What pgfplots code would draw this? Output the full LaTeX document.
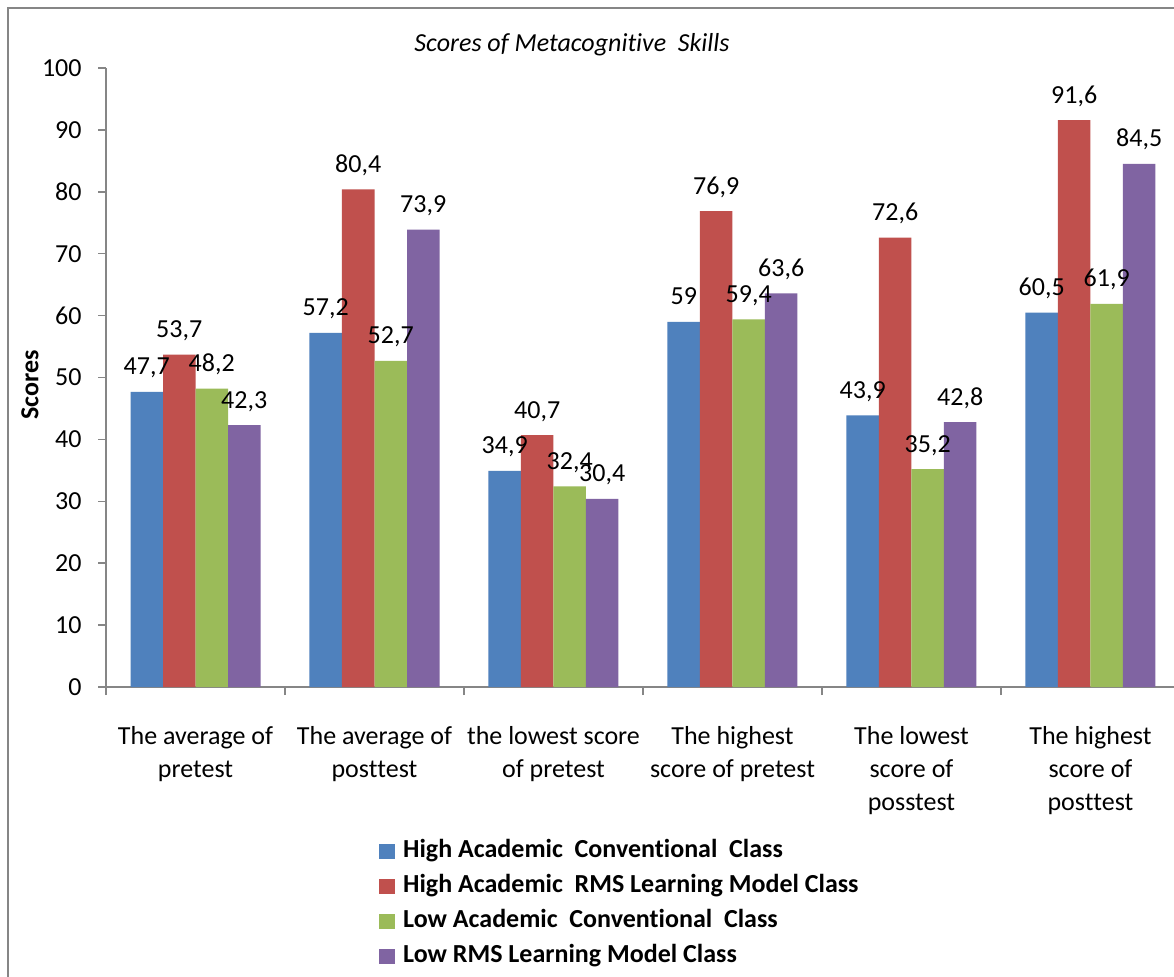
\documentclass[border=0pt]{standalone}
\usepackage{fontspec}
\setmainfont{Carlito}[Ligatures={NoCommon,NoRequired}]
\usepackage{pgfplots}
\pgfplotsset{compat=1.18}
\definecolor{c1}{HTML}{4F81BD}
\definecolor{c2}{HTML}{C0504D}
\definecolor{c3}{HTML}{9BBB59}
\definecolor{c4}{HTML}{8064A2}
\definecolor{axgray}{HTML}{868686}
\newcommand{\f}{\fontsize{13}{16.5}\selectfont}
\newcommand{\nl}{\kern0pt }
\pgfplotsset{mybar/.style={fill=#1, draw=none,
  legend image code/.code={\fill[#1] (0pt,-3.9pt) rectangle (8pt,3.9pt);}}}
\begin{document}
\begin{tikzpicture}
\useasboundingbox (0,0) rectangle (587pt,-488pt);
\fill[white] (0,0) rectangle (587pt,-488pt);
\begin{axis}[
  at={(53pt,-343.5pt)}, anchor=south west,
  scale only axis, width=537pt, height=309.5pt,
  xmin=-0.5, xmax=5.5, ymin=0, ymax=100,
  ybar=0pt, bar width=16.25pt,
  axis x line*=bottom, axis y line*=left,
  axis line style={axgray, line width=0.75pt, -},
  tick align=outside,
  major tick length=4pt, minor tick length=4pt,
  tick style={axgray, line width=0.75pt},
  xtick={0,1,2,3,4,5},
  minor xtick={-0.5,0.5,1.5,2.5,3.5,4.5,5.5},
  every major x tick/.append style={draw=none},
  xticklabels={{The average of\\pretest},{The average of\\post\nl test},{the lowest score\\of pretest},{The highest\\score of pretest},{The lowest\\score of\\posstest},{The highest\\score of\\post\nl test}},
  xticklabel style={align=center, font=\f, yshift=-12pt, anchor=north},
  ytick={0,10,...,100},
  yticklabel style={font=\f, xshift=-4.7pt},
  /pgf/number format/use comma,
  /pgf/number format/assume math mode=true,
  nodes near coords,
  every node near coord/.append style={font=\f, anchor=base, yshift=8.5pt, black},
  legend style={at={(0.2484,-0.235)}, anchor=north west, draw=none, fill=none,
    font=\bfseries\f, cells={anchor=west}, row sep=3pt, column sep=3pt,
    nodes={inner sep=1pt, text height=9.5pt, text depth=3pt}},
  legend cell align=left,
]
\addplot[mybar=c1] coordinates {(0,47.7) (1,57.2) (2,34.9) (3,59) (4,43.9) (5,60.5)};
\addplot[mybar=c2] coordinates {(0,53.7) (1,80.4) (2,40.7) (3,76.9) (4,72.6) (5,91.6)};
\addplot[mybar=c3] coordinates {(0,48.2) (1,52.7) (2,32.4) (3,59.4) (4,35.2) (5,61.9)};
\addplot[mybar=c4] coordinates {(0,42.3) (1,73.9) (2,30.4) (3,63.6) (4,42.8) (5,84.5)};
\legend{High\ Academic\ \ Convent\nl ional\ \ Class, High\ Academic\ \ RMS\ Learning\ Model\ Class, Low\ Academic\ \ Convent\nl ional\ \ Class, Low\ RMS\ Learning\ Model\ Class}
\end{axis}
\node[font=\f\itshape] at (286pt,-22.5pt) {Scores of Metacognit\nl ive\ \ Skills};
\node[font=\f\bfseries, rotate=90] at (15pt,-192.5pt) {Scores};
\draw[axgray, line width=0.8pt] (4pt,-490pt) -- (4pt,-4pt) -- (590pt,-4pt);
\end{tikzpicture}
\end{document}
